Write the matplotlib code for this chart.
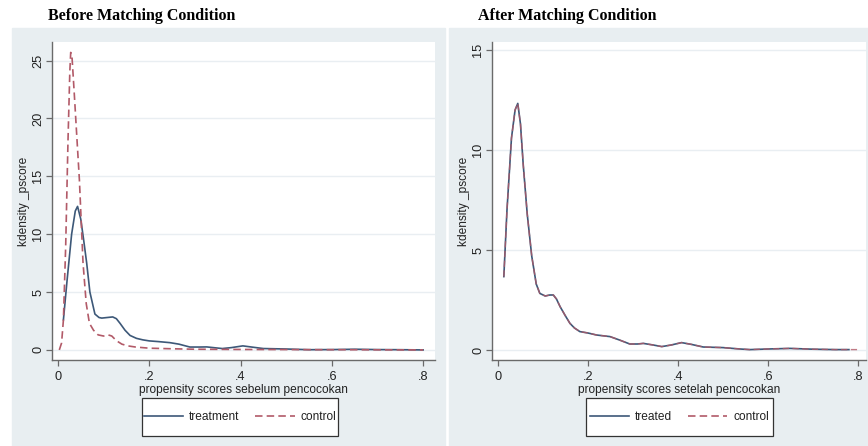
import matplotlib
matplotlib.use("Agg")
import matplotlib.pyplot as plt
from matplotlib.patches import Rectangle
from matplotlib.lines import Line2D

# ---- data ----
# before matching
before_treat_x = [0.012, 0.02, 0.03, 0.038, 0.043, 0.05, 0.056, 0.063, 0.07, 0.081, 0.09,
                  0.096, 0.108, 0.12, 0.128, 0.136, 0.147, 0.158, 0.172, 0.186, 0.2, 0.22,
                  0.245, 0.265, 0.289, 0.31, 0.326, 0.345, 0.36, 0.38, 0.405, 0.43, 0.45,
                  0.5, 0.55, 0.6, 0.65, 0.7, 0.75, 0.8]
before_treat_y = [2.6, 6.0, 10.0, 12.0, 12.4, 11.3, 9.6, 7.5, 5.0, 3.1, 2.8,
                  2.75, 2.8, 2.85, 2.7, 2.3, 1.7, 1.25, 1.0, 0.87, 0.78, 0.72,
                  0.63, 0.5, 0.25, 0.25, 0.26, 0.18, 0.12, 0.2, 0.35, 0.22, 0.12,
                  0.08, 0.02, 0.03, 0.06, 0.03, 0.02, 0.0]
before_ctrl_x = [0.003, 0.008, 0.012, 0.017, 0.022, 0.026, 0.028, 0.031, 0.036, 0.042, 0.047,
                 0.055, 0.062, 0.069, 0.078, 0.088, 0.1, 0.11, 0.118, 0.128, 0.14, 0.153,
                 0.17, 0.2, 0.25, 0.3, 0.4, 0.5, 0.6, 0.7, 0.8]
before_ctrl_y = [0.0, 0.6, 2.6, 9.0, 18.0, 24.0, 25.7, 25.2, 22.0, 18.0, 14.7,
                 7.5, 4.0, 2.3, 1.7, 1.3, 1.2, 1.3, 1.2, 0.8, 0.5, 0.35,
                 0.25, 0.15, 0.1, 0.06, 0.04, 0.03, 0.02, 0.01, 0.0]

# after matching
after_treat_x = [0.013, 0.02, 0.03, 0.038, 0.044, 0.05, 0.056, 0.065, 0.075, 0.085, 0.093,
                 0.105, 0.115, 0.123, 0.13, 0.138, 0.15, 0.16, 0.17, 0.182, 0.2, 0.219,
                 0.249, 0.27, 0.293, 0.31, 0.323, 0.345, 0.364, 0.385, 0.408, 0.43, 0.456,
                 0.5, 0.538, 0.56, 0.6, 0.649, 0.7, 0.75, 0.78]
after_treat_y = [3.67, 7.0, 10.6, 12.0, 12.33, 11.3, 9.3, 6.8, 4.7, 3.3, 2.83,
                 2.7, 2.75, 2.75, 2.55, 2.17, 1.7, 1.33, 1.1, 0.92, 0.85, 0.75,
                 0.67, 0.5, 0.3, 0.3, 0.33, 0.25, 0.17, 0.25, 0.37, 0.28, 0.15,
                 0.12, 0.05, 0.02, 0.05, 0.08, 0.04, 0.02, 0.02]
after_ctrl_x = after_treat_x + [0.8]
after_ctrl_y = after_treat_y + [0.02]

x_ticks = [0, 0.2, 0.4, 0.6, 0.8]
x_ticklabels = ["0", ".2", ".4", ".6", ".8"]

SOLID = "#3d5878"
DASH = "#b25a68"
BG = "#e8eef1"
GRID = "#e9eef2"
AXC = "#6a6a6a"
TXT = "#222222"
FS = 8.6

plt.rcParams["font.family"] = ["Liberation Sans", "DejaVu Sans"]

W, H = 868, 446
fig = plt.figure(figsize=(W / 100, H / 100), dpi=100)
fig.patches.append(Rectangle((12 / W, 0), (445 - 12) / W, (H - 28) / H,
                             transform=fig.transFigure, color=BG, zorder=-10))
fig.patches.append(Rectangle((449 / W, 0), (W - 449) / W, (H - 28) / H,
                             transform=fig.transFigure, color=BG, zorder=-10))


def make_ax(left, right, top, bottom, xlim, ylim, yticks, ylab_px):
    ax = fig.add_axes([left / W, (H - bottom) / H, (right - left) / W, (bottom - top) / H])
    ax.set_facecolor("white")
    ax.set_xlim(*xlim)
    ax.set_ylim(*ylim)
    for s in ["top", "right"]:
        ax.spines[s].set_visible(False)
    for s in ["left", "bottom"]:
        ax.spines[s].set_color(AXC)
        ax.spines[s].set_linewidth(1.0)
    ax.set_xticks(x_ticks)
    ax.set_xticklabels(x_ticklabels)
    ax.set_yticks(yticks)
    ax.set_yticklabels([str(v) for v in yticks], rotation=90, va="center")
    ax.tick_params(axis="both", colors=AXC, labelcolor=TXT, labelsize=FS + 0.6,
                   length=4, width=0.9)
    ax.tick_params(axis="x", pad=4)
    ax.tick_params(axis="y", pad=1.5)
    ax.grid(axis="y", color=GRID, lw=1.0)
    ax.set_axisbelow(True)
    ax.set_ylabel("kdensity _pscore", fontsize=FS, color=TXT)
    ax.yaxis.set_label_coords((ylab_px - left) / (right - left), 0.5)
    return ax


# ---- left panel ----
ax1 = make_ax(52, 435, 42, 360, (-0.013, 0.826), (-0.87, 26.6), [0, 5, 10, 15, 20, 25], 30)
ax1.plot(before_treat_x, before_treat_y, color=SOLID, lw=1.2)
ax1.plot(before_ctrl_x, before_ctrl_y, color=DASH, lw=1.2, ls=(0, (4.5, 2.5)))
ax1.set_xlabel("propensity scores sebelum pencocokan", fontsize=FS, color=TXT, labelpad=1)
fig.text(48 / W, 1 - 16 / H, "Before Matching Condition", family="Liberation Serif",
         weight="bold", fontsize=11.5, va="center", ha="left")

# ---- right panel ----
ax2 = make_ax(492, 866, 42, 360, (-0.0133, 0.818), (-0.5, 15.4), [0, 5, 10, 15], 470)
ax2.plot(after_treat_x, after_treat_y, color=SOLID, lw=1.2)
ax2.plot(after_ctrl_x, after_ctrl_y, color=DASH, lw=1.0, ls=(0, (4.5, 2.5)), alpha=0.8)
ax2.set_xlabel("propensity scores setelah pencocokan", fontsize=FS, color=TXT, labelpad=1)
fig.text(478 / W, 1 - 16 / H, "After Matching Condition", family="Liberation Serif",
         weight="bold", fontsize=11.5, va="center", ha="left")

# ---- legends (box drawn separately to get Stata-like padding) ----
for (x0, x1), labels in [((142, 338), ["treatment", "control"]),
                         ((586, 773), ["treated", "control"])]:
    fig.patches.append(Rectangle((x0 / W, 1 - 436 / H), (x1 - x0) / W, 38 / H,
                                 transform=fig.transFigure, facecolor="white",
                                 edgecolor="#333333", lw=0.9, zorder=1))
    handles = [Line2D([], [], color=SOLID, lw=1.2),
               Line2D([], [], color=DASH, lw=1.2, ls=(0, (4.5, 2.5)))]
    fig.legend(handles, labels, loc="center", bbox_to_anchor=((x0 + x1) / 2 / W, 1 - 417 / H),
               ncol=2, fontsize=FS, frameon=False, handlelength=3.3, columnspacing=1.3,
               handletextpad=0.5, borderpad=0.2, labelcolor=TXT)

fig.savefig("out.png", dpi=100)
